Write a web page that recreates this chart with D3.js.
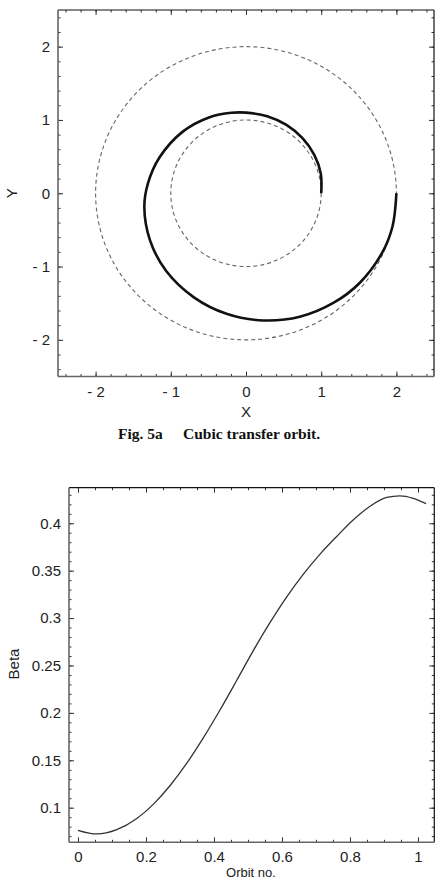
<!DOCTYPE html>
<html>
<head>
<meta charset="utf-8">
<script src="https://cdn.jsdelivr.net/npm/d3@7/dist/d3.min.js"></script>
<style>
  body { margin: 0; background: #fff; }
  svg { display: block; }
  .tick text { font-family: "Liberation Sans", Arial, sans-serif; font-size: 15px; fill: #222; }
  .tick line { stroke: #333; }
  .domain { display: none; }
  .lbl { font-family: "Liberation Sans", Arial, sans-serif; font-size: 15px; fill: #222; }
  .cap { font-family: "Liberation Serif", "Times New Roman", serif; font-weight: bold; font-size: 15.5px; fill: #111; }
</style>
</head>
<body>
<svg width="443" height="880"></svg>
<script>
// Fig 5a - orbit points
var orbitX = [1.0, 0.995, 0.908, 0.751, 0.538, 0.282, 0.0, -0.194, -0.484, -0.841, -1.151, -1.303, -1.352, -1.274, -1.061, -0.693, -0.26, 0.228, 0.715, 1.167, 1.511, 1.813, 1.949, 2.0];
var orbitY = [0.0, 0.267, 0.524, 0.751, 0.932, 1.052, 1.1, 1.098, 1.038, 0.841, 0.488, 0.137, -0.19, -0.649, -1.061, -1.42, -1.644, -1.735, -1.685, -1.493, -1.224, -0.807, -0.45, 0.0];
var refRadii = [1, 2];
var orbitTicks = [-2, -1, 0, 1, 2];
var orbitTickLabels = ["- 2", "- 1", "0", "1", "2"];

// Fig 5b - beta vs orbit no
var orbitNo = [0, 0.055, 0.114, 0.173, 0.222, 0.271, 0.32, 0.369, 0.418, 0.467, 0.516, 0.565, 0.614, 0.663, 0.712, 0.761, 0.81, 0.859, 0.908, 0.947, 0.986, 1.024];
var beta = [0.0762, 0.0723, 0.0768, 0.0886, 0.1038, 0.1234, 0.1469, 0.1739, 0.2033, 0.2344, 0.266, 0.2954, 0.3224, 0.3464, 0.3675, 0.3861, 0.4037, 0.4179, 0.4272, 0.4288, 0.4262, 0.4207];
var betaXTicks = [0, 0.2, 0.4, 0.6, 0.8, 1];
var betaXLabels = ["0", "0.2", "0.4", "0.6", "0.8", "1"];
var betaYTicks = [0.1, 0.15, 0.2, 0.25, 0.3, 0.35, 0.4];
var betaYLabels = ["0.1", "0.15", "0.2", "0.25", "0.3", "0.35", "0.4"];

var svg = d3.select("svg");

function frameAxes(g, x, y, xt, xl, yt, yl, xMinorN, yMinorN, xPad) {
	var x0 = x.range()[0], x1 = x.range()[1];
	var y0 = y.range()[0], y1 = y.range()[1];
	function fmt(ticks, labels) { return function(d) { return labels[ticks.indexOf(d)]; }; }
	// bottom
	g.append("g").attr("transform", "translate(0," + y0 + ")")
		.call(d3.axisBottom(x).tickValues(x.ticks(xMinorN)).tickSize(-2.5).tickFormat(""));
	g.append("g").attr("transform", "translate(0," + y0 + ")")
		.call(d3.axisBottom(x).tickValues(xt).tickSize(-5).tickPadding(xPad).tickFormat(fmt(xt, xl)));
	// top
	g.append("g").attr("transform", "translate(0," + y1 + ")")
		.call(d3.axisTop(x).tickValues(x.ticks(xMinorN)).tickSize(-2.5).tickFormat(""));
	g.append("g").attr("transform", "translate(0," + y1 + ")")
		.call(d3.axisTop(x).tickValues(xt).tickSize(-5).tickFormat(""));
	// left
	g.append("g").attr("transform", "translate(" + x0 + ",0)")
		.call(d3.axisLeft(y).tickValues(y.ticks(yMinorN)).tickSize(-2.5).tickFormat(""));
	g.append("g").attr("transform", "translate(" + x0 + ",0)")
		.call(d3.axisLeft(y).tickValues(yt).tickSize(-5).tickPadding(8).tickFormat(fmt(yt, yl)));
	// right
	g.append("g").attr("transform", "translate(" + x1 + ",0)")
		.call(d3.axisRight(y).tickValues(y.ticks(yMinorN)).tickSize(-2.5).tickFormat(""));
	g.append("g").attr("transform", "translate(" + x1 + ",0)")
		.call(d3.axisRight(y).tickValues(yt).tickSize(-5).tickFormat(""));
	// frame
	g.append("line").attr("x1", x0).attr("x2", x1).attr("y1", y1).attr("y2", y1).attr("stroke", "#111").attr("stroke-width", 1.2);
	g.append("line").attr("x1", x1).attr("x2", x1).attr("y1", y0).attr("y2", y1).attr("stroke", "#111").attr("stroke-width", 1.2);
	g.append("line").attr("x1", x0).attr("x2", x0).attr("y1", y0).attr("y2", y1).attr("stroke", "#666").attr("stroke-width", 1.6);
	g.append("line").attr("x1", x0).attr("x2", x1).attr("y1", y0).attr("y2", y0).attr("stroke", "#666").attr("stroke-width", 1.6);
}

// ---- top chart
var xa = d3.scaleLinear().domain([-2.5, 2.5]).range([58, 434]);
var ya = d3.scaleLinear().domain([-2.5, 2.5]).range([376.5, 10]);
var ga = svg.append("g");

ga.selectAll(".ref").data(refRadii).enter().append("ellipse")
	.attr("class", "ref")
	.attr("cx", xa(0)).attr("cy", ya(0))
	.attr("rx", function(d) { return xa(d) - xa(0); })
	.attr("ry", function(d) { return ya(0) - ya(d); })
	.attr("fill", "none").attr("stroke", "#666").attr("stroke-width", 1.1)
	.attr("stroke-dasharray", "4,3");

var orbitPts = orbitX.map(function(v, i) { return [v, orbitY[i]]; });
ga.append("path")
	.datum(orbitPts)
	.attr("d", d3.line().x(function(d) { return xa(d[0]); }).y(function(d) { return ya(d[1]); }).curve(d3.curveCatmullRom.alpha(0.5)))
	.attr("fill", "none").attr("stroke", "#111").attr("stroke-width", 2.6);

frameAxes(ga, xa, ya, orbitTicks, orbitTickLabels, orbitTicks, orbitTickLabels, 25, 25, 10);

ga.append("text").attr("class", "lbl").attr("x", xa(0)).attr("y", 417).attr("text-anchor", "middle").text("X");
ga.append("text").attr("class", "lbl").attr("transform", "translate(17," + ya(0) + ") rotate(-90)").attr("text-anchor", "middle").text("Y");
ga.append("text").attr("class", "cap").attr("x", 118).attr("y", 439).text("Fig. 5a");
ga.append("text").attr("class", "cap").attr("x", 183).attr("y", 439).text("Cubic transfer orbit.");

// ---- bottom chart
var xb = d3.scaleLinear().domain([-0.0265, 1.048]).range([69, 434.3]);
var yb = d3.scaleLinear().domain([0.0635, 0.4375]).range([842.3, 487.7]);
var gb = svg.append("g");

var betaPts = orbitNo.map(function(v, i) { return [v, beta[i]]; });
gb.append("path")
	.datum(betaPts)
	.attr("d", d3.line().x(function(d) { return xb(d[0]); }).y(function(d) { return yb(d[1]); }).curve(d3.curveMonotoneX))
	.attr("fill", "none").attr("stroke", "#333").attr("stroke-width", 1.3);

frameAxes(gb, xb, yb, betaXTicks, betaXLabels, betaYTicks, betaYLabels, 20, 40, 9);

gb.append("text").attr("class", "lbl").attr("x", 251).attr("y", 877).style("font-size", "13px").attr("text-anchor", "middle").text("Orbit no.");
gb.append("text").attr("class", "lbl").attr("transform", "translate(19,664) rotate(-90)").attr("text-anchor", "middle").text("Beta");
</script>
</body>
</html>
